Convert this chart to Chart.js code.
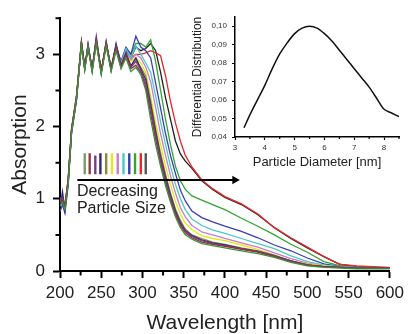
<!DOCTYPE html>
<html>
<head>
<meta charset="utf-8">
<script src="https://cdn.jsdelivr.net/npm/chart.js@4/dist/chart.umd.min.js"></script>
<style>
  html, body { margin: 0; padding: 0; background: #fff; }
  #wrap { position: relative; width: 409px; height: 334px; }
  #main { position: absolute; left: 0; top: 0; }
  #inset { position: absolute; left: 180px; top: 0; }
</style>
</head>
<body>
<div id="wrap">
  <canvas id="main" width="409" height="334"></canvas>
  <canvas id="inset" width="229" height="175"></canvas>
</div>
<script>
// ---------- DATA ----------
const wavelength = [200,203,206,210,214,220,226,230,234,239,244,250,256,262,268,274,280,286,292,298,304,310,316,322,328,334,340,346,352,360,372,385,400,420,440,460,480,500,520,540,560,580,600];

const sOliveGreen = [0.9,0.95,0.85,1.22,1.92,2.38,3.14,2.78,3.1,2.75,3.15,2.72,3.12,2.76,3.05,2.8,2.95,2.76,2.82,2.72,2.5,2.1,1.75,1.45,1.18,0.95,0.75,0.6,0.5,0.44,0.38,0.35,0.32,0.28,0.24,0.19,0.12,0.07,0.05,0.04,0.03,0.03,0.03];
const sBrown      = [1.02,0.98,0.9,1.28,1.97,2.42,3.18,2.82,3.08,2.8,3.2,2.77,3.16,2.8,3.1,2.84,2.98,2.8,2.85,2.75,2.55,2.18,1.82,1.5,1.22,0.98,0.78,0.63,0.53,0.46,0.4,0.37,0.34,0.3,0.26,0.2,0.13,0.08,0.06,0.05,0.04,0.04,0.04];
const sPurple     = [0.95,1.02,0.88,1.26,1.95,2.4,3.17,2.8,3.14,2.78,3.25,2.74,3.18,2.78,3.12,2.82,3.0,2.82,2.9,2.78,2.6,2.25,1.88,1.55,1.26,1.02,0.8,0.65,0.55,0.48,0.42,0.38,0.35,0.31,0.27,0.21,0.14,0.08,0.06,0.05,0.04,0.04,0.04];
const sNavy       = [0.88,1.1,0.85,1.24,1.93,2.38,3.16,2.83,3.11,2.8,3.22,2.76,3.15,2.8,3.15,2.85,3.02,2.84,2.95,2.8,2.65,2.3,1.92,1.58,1.3,1.05,0.83,0.67,0.56,0.49,0.43,0.39,0.36,0.31,0.27,0.21,0.14,0.08,0.06,0.05,0.04,0.04,0.04];
const sOlive      = [1.0,0.96,0.9,1.27,1.96,2.41,3.15,2.81,3.12,2.79,3.18,2.76,3.14,2.79,3.09,2.83,3.0,2.83,2.92,2.82,2.7,2.35,1.97,1.63,1.34,1.08,0.86,0.7,0.58,0.5,0.45,0.4,0.37,0.32,0.28,0.22,0.14,0.09,0.06,0.05,0.04,0.04,0.04];
const sYellow     = [0.98,0.97,0.9,1.27,1.96,2.41,3.14,2.82,3.1,2.8,3.15,2.78,3.12,2.8,3.05,2.86,3.0,2.9,2.95,2.88,2.75,2.42,2.05,1.75,1.45,1.2,0.96,0.79,0.66,0.57,0.49,0.45,0.42,0.36,0.3,0.22,0.14,0.1,0.07,0.05,0.04,0.04,0.04];
const sPink       = [0.97,0.99,0.89,1.26,1.95,2.4,3.15,2.8,3.12,2.79,3.17,2.77,3.13,2.8,3.08,2.87,3.03,2.92,3.0,2.95,2.82,2.62,2.26,1.9,1.6,1.32,1.08,0.88,0.75,0.63,0.54,0.5,0.45,0.39,0.33,0.25,0.17,0.11,0.07,0.05,0.04,0.04,0.04];
const sCyan       = [0.96,1.0,0.88,1.25,1.94,2.39,3.16,2.81,3.13,2.79,3.19,2.76,3.16,2.79,3.1,2.88,3.08,2.95,3.12,3.0,2.88,2.75,2.42,2.06,1.75,1.45,1.2,1.0,0.85,0.72,0.63,0.57,0.52,0.45,0.38,0.31,0.21,0.13,0.08,0.06,0.05,0.04,0.04];
const sBlue       = [0.82,0.92,0.8,1.2,1.9,2.36,3.15,2.8,3.14,2.78,3.2,2.75,3.17,2.8,3.12,2.9,3.1,3.0,3.25,3.1,3.05,2.95,2.6,2.25,1.9,1.6,1.35,1.12,0.97,0.83,0.74,0.68,0.62,0.55,0.46,0.36,0.28,0.18,0.1,0.06,0.05,0.04,0.04];
const sGreen      = [0.93,0.96,0.86,1.24,1.93,2.38,3.16,2.79,3.12,2.77,3.18,2.74,3.14,2.78,3.1,2.88,3.08,3.0,3.15,3.15,3.1,3.2,2.9,2.5,2.1,1.75,1.45,1.25,1.13,1.04,0.98,0.92,0.85,0.73,0.62,0.5,0.37,0.26,0.13,0.07,0.05,0.05,0.04];
const sRed        = [1.0,0.95,0.92,1.28,1.96,2.42,3.14,2.82,3.1,2.8,3.16,2.78,3.13,2.82,3.08,2.9,3.05,2.95,3.0,3.0,3.02,3.05,3.02,2.98,2.7,2.35,2.05,1.8,1.6,1.44,1.26,1.14,1.03,0.93,0.79,0.6,0.46,0.33,0.2,0.09,0.07,0.06,0.05];
const sBlack      = [0.98,0.94,0.9,1.26,1.95,2.41,3.13,2.81,3.11,2.79,3.15,2.77,3.12,2.8,3.08,2.88,3.06,2.95,3.1,3.05,3.08,3.15,3.05,2.75,2.4,2.1,1.8,1.62,1.52,1.42,1.25,1.13,1.02,0.92,0.78,0.6,0.45,0.32,0.2,0.09,0.06,0.05,0.04];

// drawing order (first = on top)
const seriesList   = [sOliveGreen, sBrown, sPurple, sNavy, sOlive, sYellow, sPink, sCyan, sBlue, sGreen, sRed, sBlack];
const seriesColors = ['#3f8f3f','#8b3535','#7d3a8c','#2b2b7a','#8a8a3c','#e6e61e','#c87dc8','#4bc8c8','#3c3cb4','#32a532','#e62828','#1e1e1e'];

// legend bars (left to right)
const barWavelength = [230,236,242.8,249,256,263,270,277,284,291,298,304];
const barColors     = ['#7a9a70','#8b4040','#7d3a8c','#2b2b7a','#8a8a3c','#e6e61e','#c87dc8','#4bc8c8','#3c3cb4','#32a532','#e62828','#555555'];
const barTop = [1.63,1.63,1.6,1.63,1.63,1.63,1.63,1.63,1.63,1.63,1.63,1.63];
const barBottom = 1.34;

// arrow
const arrowX = [221, 412];
const arrowY = 1.26;
const annotLines = ['Decreasing', 'Particle Size'];
const annotX = 220.5;
const annotY = [1.10, 0.86];

const yTicks = [0, 1, 2, 3];
const xTicks = [200,250,300,350,400,450,500,550,600];

// inset
const diameter = [3.3,3.5,3.75,4,4.25,4.5,4.75,5,5.25,5.5,5.75,6,6.25,6.5,6.75,7,7.25,7.5,7.75,8,8.25,8.5];
const distribution = [0.045,0.052,0.060,0.068,0.077,0.085,0.091,0.096,0.099,0.100,0.099,0.096,0.092,0.087,0.082,0.077,0.072,0.067,0.061,0.055,0.053,0.051];
const insetYTicks = ['0,04','0,05','0,06','0,07','0,08','0,09','0,10'];
const insetXTicks = [3,4,5,6,7,8];

// ---------- MAIN CHART ----------
const FONT = '"Liberation Sans", Arial, sans-serif';
const datasets = [];
seriesList.forEach((s, i) => {
  datasets.push({
    data: wavelength.map((w, k) => ({x: w, y: s[k]})),
    borderColor: seriesColors[i], borderWidth: 1.3, pointRadius: 0, tension: 0
  });
});
barWavelength.forEach((w, i) => {
  datasets.push({
    data: [{x: w, y: barBottom}, {x: w, y: barTop[i]}],
    borderColor: barColors[i], borderWidth: 2.4, pointRadius: 0
  });
});
datasets.unshift({
  data: arrowX.map(v => ({x: v, y: arrowY})),
  borderColor: '#000', borderWidth: 2,
  pointRadius: [0, 5], pointStyle: 'triangle', rotation: 90,
  pointBackgroundColor: '#000', pointBorderColor: '#000', pointBorderWidth: 0
});

const annotPlugin = {
  id: 'annot',
  afterDatasetsDraw(chart) {
    const {ctx, scales: {x, y}} = chart;
    ctx.save();
    ctx.font = '16px ' + FONT;
    ctx.fillStyle = '#222';
    ctx.textBaseline = 'middle';
    ctx.textAlign = 'left';
    annotLines.forEach((t, i) => ctx.fillText(t, x.getPixelForValue(annotX), y.getPixelForValue(annotY[i])));
    ctx.restore();
  }
};

// minor ticks: shorter marks drawn from the scales' own ticks
function minorTickPlugin(len, width, isMajorX, isMajorY) {
  return {
    id: 'minorTicks',
    afterDraw(chart) {
      const {ctx, scales: {x, y}, chartArea} = chart;
      ctx.save();
      ctx.strokeStyle = '#000';
      ctx.lineWidth = width;
      ctx.beginPath();
      x.ticks.forEach(t => {
        if (isMajorX(t.value)) return;
        const px = x.getPixelForValue(t.value);
        ctx.moveTo(px, chartArea.bottom);
        ctx.lineTo(px, chartArea.bottom + len);
      });
      y.ticks.forEach(t => {
        if (isMajorY(t.value)) return;
        const py = y.getPixelForValue(t.value);
        ctx.moveTo(chartArea.left, py);
        ctx.lineTo(chartArea.left - len, py);
      });
      ctx.stroke();
      ctx.restore();
    }
  };
}

new Chart(document.getElementById('main'), {
  type: 'line',
  data: { datasets },
  plugins: [annotPlugin, minorTickPlugin(4.5, 2, v => xTicks.includes(v), v => yTicks.includes(v))],
  options: {
    responsive: false, animation: false, devicePixelRatio: 1,
    layout: { padding: { top: 15, right: 15, left: 0, bottom: 0 } },
    plugins: { legend: { display: false }, tooltip: { enabled: false } },
    scales: {
      x: {
        type: 'linear', min: 200, max: 600,
        afterFit: s => { s.height = 63; },
        ticks: {
          stepSize: 25, padding: 5, color: '#222', autoSkip: false, maxRotation: 0,
          font: { family: FONT, size: 17 },
          callback: v => xTicks.includes(v) ? String(v) : ''
        },
        grid: { drawOnChartArea: false, drawTicks: true, tickLength: 7, tickWidth: 2,
                tickColor: c => (c.tick && xTicks.includes(c.tick.value)) ? '#000' : 'rgba(0,0,0,0)' },
        border: { display: true, color: '#000', width: 2 },
        title: { display: true, text: 'Wavelength [nm]', color: '#222', font: { family: FONT, size: 21, lineHeight: 1 }, padding: { top: 0, bottom: 0 } }
      },
      y: {
        type: 'linear', min: 0, max: 3.5,
        afterFit: s => { s.width = 60; },
        ticks: {
          stepSize: 0.5, padding: 8, color: '#222', autoSkip: false,
          font: { family: FONT, size: 17 },
          callback: v => yTicks.includes(v) ? String(v) : ''
        },
        grid: { drawOnChartArea: false, drawTicks: true, tickLength: 7, tickWidth: 2,
                tickColor: c => (c.tick && yTicks.includes(c.tick.value)) ? '#000' : 'rgba(0,0,0,0)' },
        border: { display: true, color: '#000', width: 2 },
        title: { display: true, text: 'Absorption', color: '#222', font: { family: FONT, size: 21, lineHeight: 1 }, padding: { top: 10, bottom: 0 } }
      }
    }
  }
});

// ---------- INSET ----------
new Chart(document.getElementById('inset'), {
  type: 'line',
  data: { datasets: [{
    data: diameter.map((d, k) => ({x: d, y: distribution[k]})),
    borderColor: '#111', borderWidth: 1.5, pointRadius: 0, tension: 0.3
  }]},
  plugins: [minorTickPlugin(2, 1.2, v => insetXTicks.includes(v), v => true)],
  options: {
    responsive: false, animation: false, devicePixelRatio: 1,
    layout: { padding: { top: 17, right: 10, left: 0, bottom: 0 } },
    plugins: { legend: { display: false }, tooltip: { enabled: false } },
    scales: {
      x: {
        type: 'linear', min: 3, max: 8.5,
        afterFit: s => { s.height = 38; },
        ticks: {
          stepSize: 0.5, padding: 3, color: '#333', autoSkip: false, maxRotation: 0,
          font: { family: FONT, size: 8 },
          callback: v => insetXTicks.includes(v) ? String(v) : ''
        },
        grid: { drawOnChartArea: false, tickLength: 3, tickWidth: 1.2,
                tickColor: c => (c.tick && insetXTicks.includes(c.tick.value)) ? '#000' : 'rgba(0,0,0,0)' },
        border: { color: '#000', width: 1.5 },
        title: { display: true, text: 'Particle Diameter [nm]', color: '#222', font: { family: FONT, size: 13, lineHeight: 1 }, padding: { top: 0, bottom: 6 } }
      },
      y: {
        type: 'linear', min: 0.04, max: 0.105,
        afterFit: s => { s.width = 55; },
        afterBuildTicks: s => { s.ticks = s.ticks.filter(t => Math.abs(t.value * 100 - Math.round(t.value * 100)) < 1e-6); },
        ticks: {
          stepSize: 0.01, padding: 5, color: '#333', autoSkip: false,
          font: { family: FONT, size: 8 },
          callback: v => insetYTicks[Math.round(v * 100) - 4] || ''
        },
        grid: { drawOnChartArea: false, tickLength: 3, tickWidth: 1.2, tickColor: '#000' },
        border: { color: '#000', width: 1.5 },
        title: { display: true, text: 'Differential Distribution', color: '#222', font: { family: FONT, size: 12, lineHeight: 1 }, padding: { top: 12, bottom: 0 } }
      }
    }
  }
});
</script>
</body>
</html>
